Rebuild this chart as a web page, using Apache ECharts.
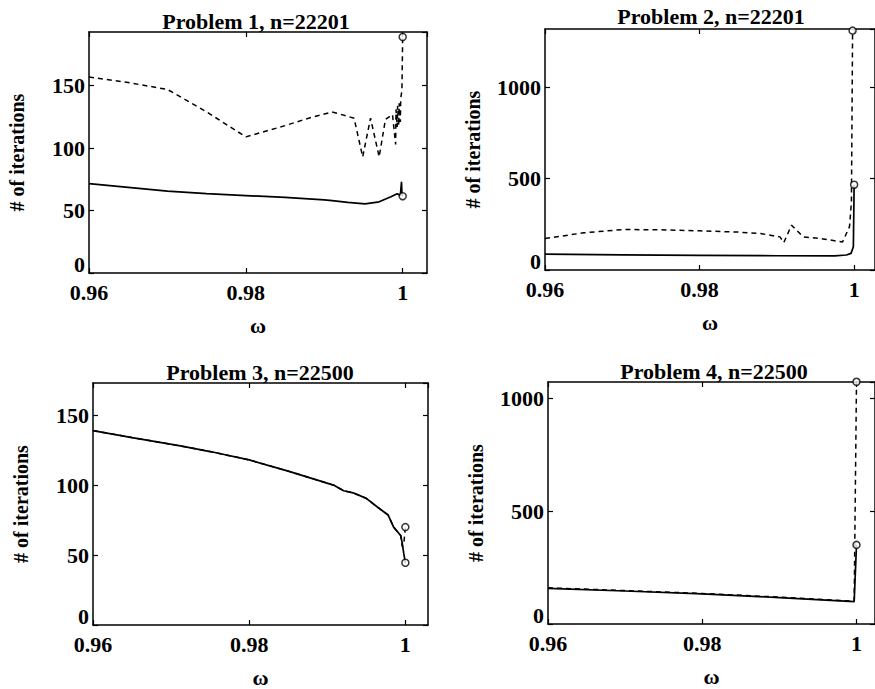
<!DOCTYPE html>
<html>
<head>
<meta charset="utf-8">
<script src="https://cdn.jsdelivr.net/npm/echarts@6/dist/echarts.min.js"></script>
<style>
html,body{margin:0;padding:0;background:#fff;}
#chart{width:875px;height:689px;}
</style>
</head>
<body>
<div id="chart"></div>
<script>
// ---------- Data ----------
const titles = ['Problem 1, n=22201', 'Problem 2, n=22201', 'Problem 3, n=22500', 'Problem 4, n=22500'];
const xAxisName = 'ω';
const yAxisName = '# of iterations';
const xTicks = [0.96, 0.98, 1];
const yTicks1 = [0, 50, 100, 150];
const yTicks2 = [0, 500, 1000];

// Problem 1
const p1SolidX  = [0.96, 0.965, 0.97, 0.975, 0.98, 0.985, 0.99, 0.991, 0.993, 0.9952, 0.997, 0.9985, 0.9993, 0.9997, 0.99985, 0.9999, 1.0];
const p1SolidY  = [71.5, 68.5, 65.5, 63.5, 62, 60.5, 58.5, 58, 56.5, 55.3, 57, 61, 63.5, 62, 73, 64, 61.5];
const p1DashedX = [0.96, 0.965, 0.97, 0.975, 0.98, 0.985, 0.988, 0.991, 0.9938, 0.9949, 0.9959, 0.997, 0.9978, 0.9987, 0.9991, 0.99915, 0.9993, 0.99935, 0.9995, 0.99955, 0.9997, 0.99975, 0.9999, 1.0];
const p1DashedY = [157, 152.5, 147, 129, 109, 118, 124, 129, 124, 93, 124, 93, 123, 127, 103, 131, 117, 134, 118, 136, 121, 140, 146, 189];

// Problem 2
const p2SolidX  = [0.96, 0.97, 0.98, 0.99, 0.9975, 0.999, 0.9996, 0.9999, 1.0];
const p2SolidY  = [87, 83, 80, 78, 77, 82, 91, 127, 466];
const p2DashedX = [0.96, 0.965, 0.97, 0.975, 0.98, 0.985, 0.9879, 0.9904, 0.9909, 0.9919, 0.9934, 0.996, 0.9985, 0.9994, 0.99965, 0.9998];
const p2DashedY = [172, 203, 221, 220, 214, 207, 199, 181, 150, 245, 181, 170, 153, 237, 370, 1308];

// Problem 3
const p3SolidX  = [0.96, 0.965, 0.9712, 0.975, 0.98, 0.985, 0.9908, 0.9921, 0.9933, 0.995, 0.9965, 0.9978, 0.9985, 0.9994, 0.9996, 0.9998, 1.0];
const p3SolidY  = [139, 134, 128, 124, 118, 110, 100, 96, 94.5, 90.5, 84, 78.6, 70, 64, 58.5, 51, 44.5];
const p3DashedX = [0.96, 0.965, 0.9712, 0.975, 0.98, 0.985, 0.9908, 0.9921, 0.9933, 0.995, 0.9965, 0.9978, 0.9985, 0.9994, 0.9996, 0.9998, 1.0];
const p3DashedY = [139, 134, 128, 124, 118, 110, 100, 96, 94.5, 90.5, 84, 78.6, 70, 64, 56, 58, 70];

// Problem 4
const p4SolidX  = [0.96, 0.97, 0.98, 0.99, 0.9997, 1.0];
const p4SolidY  = [158, 146, 133, 117, 99, 350];
const p4DashedX = [0.96, 0.97, 0.98, 0.99, 0.9997, 1.0];
const p4DashedY = [160, 148, 135, 119, 101, 1072];

// ---------- Layout ----------
const FONT = "'Liberation Serif','Times New Roman',serif";
const panels = [
  {grid:{left:89, top:32, width:338, height:241}, xMax:1.0031, yMax:193, yInt:50,
   solid:[p1SolidX,p1SolidY], dashed:[p1DashedX,p1DashedY], title:[256,21]},
  {grid:{left:545, top:29, width:334, height:241}, xMax:1.0027, yMax:1317, yInt:500,
   solid:[p2SolidX,p2SolidY], dashed:[p2DashedX,p2DashedY], title:[711,16]},
  {grid:{left:93, top:383, width:335, height:242}, xMax:1.0029, yMax:173, yInt:50,
   solid:[p3SolidX,p3SolidY], dashed:[p3DashedX,p3DashedY], title:[260,372]},
  {grid:{left:548, top:382, width:331, height:242}, xMax:1.0024, yMax:1071, yInt:500,
   solid:[p4SolidX,p4SolidY], dashed:[p4DashedX,p4DashedY], title:[714,371]}
];

const zip = (xs, ys) => xs.map((x, i) => [x, ys[i]]);
const lineCol = '#000';
const axisLineStyle = {color: lineCol, width: 1.5};
const tickStyle = {inside: true, length: 5, lineStyle: {color: lineCol, width: 1.2}};
const labelStyle = {fontFamily: FONT, fontSize: 22, fontWeight: 'bold', color: '#000', lineHeight: 18};

const grid = [], xAxis = [], yAxis = [], series = [], graphic = [];
panels.forEach((p, i) => {
  grid.push(Object.assign({containLabel: false}, p.grid));
  // bottom x axis
  xAxis.push({
    gridIndex: i, type: 'value', position: 'bottom', min: 0.96, max: p.xMax, interval: 0.02,
    axisLine: {onZero: false, lineStyle: axisLineStyle}, axisTick: tickStyle,
    axisLabel: Object.assign({margin: 10, showMaxLabel: false,
      formatter: v => String(parseFloat(v.toFixed(4)))}, labelStyle),
    splitLine: {show: false},
    name: xAxisName, nameLocation: 'middle', nameGap: 41,
    nameTextStyle: {fontFamily: FONT, fontSize: 22, fontWeight: 'bold', color: '#000'}
  });
  // top x axis (box + ticks)
  xAxis.push({
    gridIndex: i, type: 'value', position: 'top', min: 0.96, max: p.xMax, interval: 0.02,
    axisLine: {onZero: false, lineStyle: axisLineStyle}, axisTick: tickStyle,
    axisLabel: {show: false}, splitLine: {show: false}
  });
  // left y axis
  yAxis.push({
    gridIndex: i, type: 'value', position: 'left', min: 0, max: p.yMax, interval: p.yInt,
    axisLine: {onZero: false, lineStyle: axisLineStyle}, axisTick: tickStyle,
    axisLabel: Object.assign({margin: 4, showMaxLabel: false, verticalAlignMinLabel: 'bottom',
      formatter: v => String(Math.round(v))}, labelStyle),
    splitLine: {show: false},
    name: yAxisName, nameLocation: 'middle', nameGap: 62, nameRotate: 90,
    nameTextStyle: {fontFamily: FONT, fontSize: 20, fontWeight: 'bold', color: '#000'}
  });
  // right y axis (box + ticks)
  yAxis.push({
    gridIndex: i, type: 'value', position: 'right', min: 0, max: p.yMax, interval: p.yInt,
    axisLine: {onZero: false, lineStyle: axisLineStyle}, axisTick: tickStyle,
    axisLabel: {show: false}, splitLine: {show: false}
  });
  const xi = i * 2, yi = i * 2;
  series.push({
    type: 'line', xAxisIndex: xi, yAxisIndex: yi, data: zip(p.dashed[0], p.dashed[1]),
    showSymbol: false, symbol: 'none', lineStyle: {color: lineCol, width: 1.5, type: [5, 4]}, z: 2
  });
  series.push({
    type: 'line', xAxisIndex: xi, yAxisIndex: yi, data: zip(p.solid[0], p.solid[1]),
    showSymbol: false, symbol: 'none', lineStyle: {color: lineCol, width: 1.7, type: 'solid'}, z: 3
  });
  const last = a => a[a.length - 1];
  series.push({
    type: 'scatter', xAxisIndex: xi, yAxisIndex: yi, clip: false,
    data: [[last(p.solid[0]), last(p.solid[1])], [last(p.dashed[0]), last(p.dashed[1])]],
    symbol: 'circle', symbolSize: 7,
    itemStyle: {color: '#fff', borderColor: '#000', borderWidth: 1.5}, z: 4
  });
  graphic.push({
    type: 'text', x: p.title[0], y: p.title[1],
    style: {text: titles[i], fontFamily: FONT, fontSize: 22, fontWeight: 'bold',
            fill: '#000', textAlign: 'center', textVerticalAlign: 'middle'}
  });
});

const chart = echarts.init(document.getElementById('chart'), null, {renderer: 'svg'});
chart.setOption({
  backgroundColor: '#fff',
  animation: false,
  grid, xAxis, yAxis, series, graphic
});
</script>
</body>
</html>
